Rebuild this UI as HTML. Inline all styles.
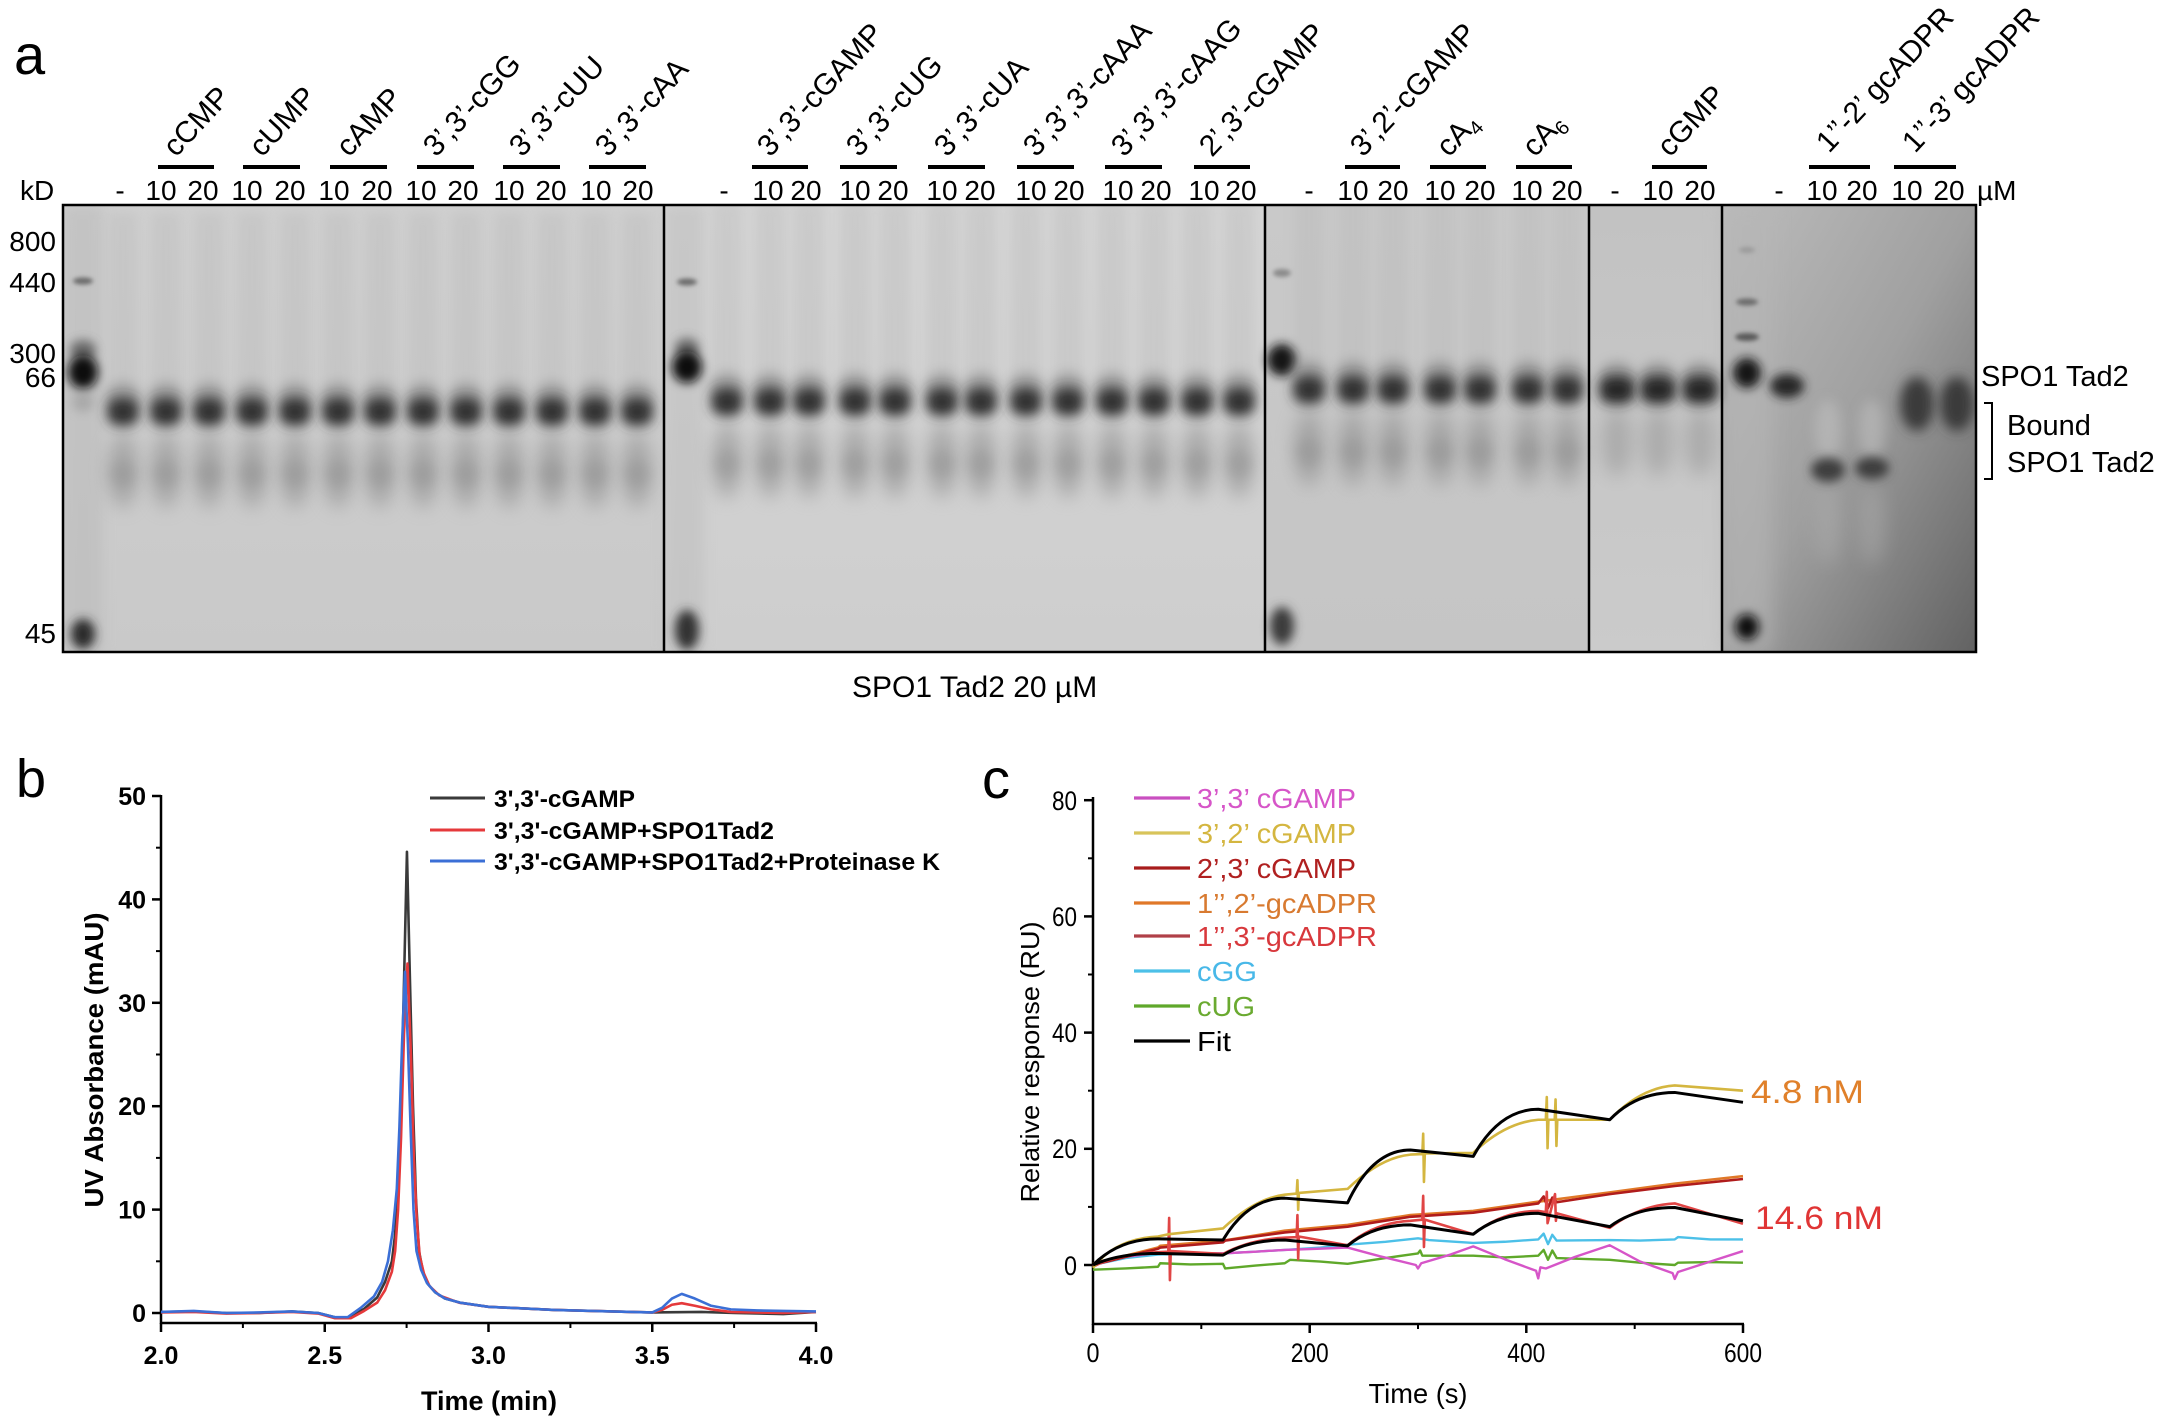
<!DOCTYPE html>
<html><head><meta charset="utf-8">
<style>
html,body{margin:0;padding:0;background:#fff;}
svg{display:block;}
text{font-family:"Liberation Sans",Arial,sans-serif;}
</style></head>
<body>
<svg width="2168" height="1419" viewBox="0 0 2168 1419" xmlns="http://www.w3.org/2000/svg" xmlns:xlink="http://www.w3.org/1999/xlink">
<defs>
  <filter id="b2" x="-100%" y="-100%" width="300%" height="300%"><feGaussianBlur stdDeviation="2"/></filter>
  <filter id="b4" x="-100%" y="-100%" width="300%" height="300%"><feGaussianBlur stdDeviation="4"/></filter>
  <filter id="b5" x="-100%" y="-100%" width="300%" height="300%"><feGaussianBlur stdDeviation="5"/></filter>
  <filter id="b6" x="-100%" y="-100%" width="300%" height="300%"><feGaussianBlur stdDeviation="6"/></filter>
  <filter id="b9" x="-100%" y="-100%" width="300%" height="300%"><feGaussianBlur stdDeviation="9"/></filter>
  <clipPath id="gc"><rect x="63" y="205" width="1913" height="447"/></clipPath>
  <linearGradient id="g1" x1="0" y1="0" x2="0" y2="1"><stop offset="0" stop-color="#d0d0d0"/><stop offset="1" stop-color="#c9c9c9"/></linearGradient>
  <linearGradient id="g2" x1="0" y1="0" x2="0" y2="1"><stop offset="0" stop-color="#d5d5d5"/><stop offset="1" stop-color="#cecece"/></linearGradient>
  <linearGradient id="g3" x1="0" y1="0" x2="0" y2="1"><stop offset="0" stop-color="#c9c9c9"/><stop offset="1" stop-color="#c5c5c5"/></linearGradient>
  <linearGradient id="g4" x1="0" y1="0" x2="0" y2="1"><stop offset="0" stop-color="#c2c2c2"/><stop offset="1" stop-color="#cbcbcb"/></linearGradient>
  <linearGradient id="g5" x1="0" y1="0" x2="1" y2="1"><stop offset="0" stop-color="#bcbcbc"/><stop offset="0.5" stop-color="#a0a0a0"/><stop offset="1" stop-color="#626262"/></linearGradient>
  <g id="ln">
    <rect x="-15" y="-200" width="30" height="190" fill="#b4b4b4" opacity="0.3" filter="url(#b6)"/>
    <ellipse cx="0" cy="58" rx="15" ry="38" fill="#8a8a8a" opacity="0.55" filter="url(#b9)"/>
    <ellipse cx="0" cy="62" rx="13" ry="14" fill="#888" opacity="0.35" filter="url(#b6)"/>
    <ellipse cx="0" cy="-14" rx="17" ry="15" fill="#6a6a6a" opacity="0.45" filter="url(#b6)"/>
    <rect x="-16" y="-14" width="32" height="28" rx="12" fill="#333" filter="url(#b6)"/>
  </g>
  <g id="ln4">
    <ellipse cx="0" cy="52" rx="15" ry="34" fill="#8a8a8a" opacity="0.45" filter="url(#b9)"/>
    <ellipse cx="0" cy="-14" rx="17" ry="14" fill="#666" opacity="0.45" filter="url(#b6)"/>
    <rect x="-18" y="-14" width="36" height="28" rx="12" fill="#262626" filter="url(#b6)"/>
  </g>
</defs>

<!-- ================= PANEL A ================= -->
<text x="14" y="74" font-size="56">a</text>

<g clip-path="url(#gc)">
  <rect x="63" y="205" width="601" height="447" fill="url(#g1)"/>
  <rect x="63" y="205" width="40" height="447" fill="#bcbcbc" opacity="0.6" filter="url(#b6)"/>
  <rect x="664" y="205" width="601" height="447" fill="url(#g2)"/>
  <rect x="664" y="205" width="40" height="447" fill="#c0c0c0" opacity="0.6" filter="url(#b6)"/>
  <rect x="1265" y="205" width="324" height="447" fill="url(#g3)"/>
  <rect x="1589" y="205" width="133" height="447" fill="url(#g4)"/>
  <rect x="1722" y="205" width="254" height="447" fill="url(#g5)"/>
  <rect x="1722" y="205" width="50" height="447" fill="#b6b6b6" opacity="0.6" filter="url(#b9)"/>

  <ellipse cx="83" cy="281" rx="10" ry="3.5" fill="#6a6a6a" filter="url(#b2)"/>
  <ellipse cx="83" cy="350" rx="13" ry="10" fill="#555" opacity="0.8" filter="url(#b5)"/>
  <ellipse cx="83" cy="372" rx="15" ry="17" fill="#111" filter="url(#b5)"/>
  <ellipse cx="83" cy="402" rx="11" ry="10" fill="#999" opacity="0.6" filter="url(#b5)"/>
  <ellipse cx="83" cy="634" rx="12" ry="15" fill="#2c2c2c" filter="url(#b5)"/>
  <use xlink:href="#ln" x="123" y="412"/>
  <use xlink:href="#ln" x="166" y="412"/>
  <use xlink:href="#ln" x="209" y="412"/>
  <use xlink:href="#ln" x="252" y="412"/>
  <use xlink:href="#ln" x="295" y="412"/>
  <use xlink:href="#ln" x="338" y="412"/>
  <use xlink:href="#ln" x="380" y="412"/>
  <use xlink:href="#ln" x="423" y="412"/>
  <use xlink:href="#ln" x="466" y="412"/>
  <use xlink:href="#ln" x="509" y="412"/>
  <use xlink:href="#ln" x="552" y="412"/>
  <use xlink:href="#ln" x="595" y="412"/>
  <use xlink:href="#ln" x="637" y="412"/>

  <ellipse cx="687" cy="282" rx="10" ry="3.5" fill="#6a6a6a" filter="url(#b2)"/>
  <ellipse cx="687" cy="348" rx="12" ry="10" fill="#555" opacity="0.8" filter="url(#b5)"/>
  <ellipse cx="687" cy="367" rx="15" ry="16" fill="#111" filter="url(#b5)"/>
  <ellipse cx="687" cy="630" rx="12" ry="20" fill="#333" filter="url(#b5)"/>
  <use xlink:href="#ln" x="727" y="402"/>
  <use xlink:href="#ln" x="770" y="402"/>
  <use xlink:href="#ln" x="809" y="402"/>
  <use xlink:href="#ln" x="855" y="402"/>
  <use xlink:href="#ln" x="895" y="402"/>
  <use xlink:href="#ln" x="942" y="402"/>
  <use xlink:href="#ln" x="981" y="402"/>
  <use xlink:href="#ln" x="1026" y="402"/>
  <use xlink:href="#ln" x="1068" y="402"/>
  <use xlink:href="#ln" x="1112" y="402"/>
  <use xlink:href="#ln" x="1154" y="402"/>
  <use xlink:href="#ln" x="1197" y="402"/>
  <use xlink:href="#ln" x="1239" y="402"/>

  <ellipse cx="1282" cy="273" rx="9" ry="4" fill="#8a8a8a" filter="url(#b2)"/>
  <ellipse cx="1282" cy="360" rx="15" ry="16" fill="#141414" filter="url(#b5)"/>
  <ellipse cx="1282" cy="626" rx="12" ry="19" fill="#3a3a3a" filter="url(#b5)"/>
  <use xlink:href="#ln" x="1309" y="390"/>
  <use xlink:href="#ln" x="1353" y="390"/>
  <use xlink:href="#ln" x="1393" y="390"/>
  <use xlink:href="#ln" x="1440" y="390"/>
  <use xlink:href="#ln" x="1480" y="390"/>
  <use xlink:href="#ln" x="1528" y="390"/>
  <use xlink:href="#ln" x="1567" y="390"/>

  <use xlink:href="#ln4" x="1617" y="390"/>
  <use xlink:href="#ln4" x="1658" y="390"/>
  <use xlink:href="#ln4" x="1700" y="390"/>

  <ellipse cx="1747" cy="250" rx="8" ry="3" fill="#9a9a9a" filter="url(#b2)"/>
  <ellipse cx="1747" cy="302" rx="11" ry="3.5" fill="#6a6a6a" filter="url(#b2)"/>
  <ellipse cx="1747" cy="337" rx="12" ry="4" fill="#5a5a5a" filter="url(#b2)"/>
  <ellipse cx="1747" cy="373" rx="14" ry="15" fill="#141414" filter="url(#b5)"/>
  <ellipse cx="1747" cy="627" rx="12" ry="13" fill="#111" filter="url(#b5)"/>
  <ellipse cx="1787" cy="386" rx="17" ry="12" fill="#262626" filter="url(#b5)"/>
  <ellipse cx="1828" cy="430" rx="13" ry="30" fill="#c4c4c4" opacity="0.5" filter="url(#b6)"/>
  <ellipse cx="1872" cy="430" rx="13" ry="30" fill="#c4c4c4" opacity="0.5" filter="url(#b6)"/>
  <ellipse cx="1828" cy="525" rx="13" ry="40" fill="#b4b4b4" opacity="0.4" filter="url(#b9)"/>
  <ellipse cx="1872" cy="525" rx="13" ry="40" fill="#b4b4b4" opacity="0.4" filter="url(#b9)"/>
  <ellipse cx="1828" cy="470" rx="17" ry="12" fill="#3c3c3c" filter="url(#b5)"/>
  <ellipse cx="1872" cy="468" rx="17" ry="11" fill="#3c3c3c" filter="url(#b5)"/>
  <ellipse cx="1917" cy="404" rx="17" ry="27" fill="#3a3a3a" filter="url(#b6)"/>
  <ellipse cx="1957" cy="404" rx="17" ry="27" fill="#3a3a3a" filter="url(#b6)"/>
</g>

<rect x="63" y="205" width="1913" height="447" fill="none" stroke="#000" stroke-width="2.5"/>
<line x1="664" y1="205" x2="664" y2="652" stroke="#000" stroke-width="2.5"/>
<line x1="1265" y1="205" x2="1265" y2="652" stroke="#000" stroke-width="2.5"/>
<line x1="1589" y1="205" x2="1589" y2="652" stroke="#000" stroke-width="2.5"/>
<line x1="1722" y1="205" x2="1722" y2="652" stroke="#000" stroke-width="2.5"/>

<g font-size="28" text-anchor="end" fill="#000">
  <text x="20" y="200" text-anchor="start">kD</text>
  <text x="56" y="251">800</text>
  <text x="56" y="292">440</text>
  <text x="56" y="363">300</text>
  <text x="56" y="387">66</text>
  <text x="56" y="643">45</text>
</g>

<g fill="#000">
  <rect x="158" y="165" width="56" height="4"/>
  <rect x="243" y="165" width="57" height="4"/>
  <rect x="330" y="165" width="57" height="4"/>
  <rect x="417" y="165" width="57" height="4"/>
  <rect x="503" y="165" width="57" height="4"/>
  <rect x="589" y="165" width="57" height="4"/>
  <rect x="752" y="165" width="56" height="4"/>
  <rect x="840" y="165" width="57" height="4"/>
  <rect x="928" y="165" width="57" height="4"/>
  <rect x="1017" y="165" width="57" height="4"/>
  <rect x="1105" y="165" width="57" height="4"/>
  <rect x="1194" y="165" width="56" height="4"/>
  <rect x="1345" y="165" width="55" height="4"/>
  <rect x="1430" y="165" width="56" height="4"/>
  <rect x="1516" y="165" width="56" height="4"/>
  <rect x="1652" y="165" width="55" height="4"/>
  <rect x="1809" y="165" width="61" height="4"/>
  <rect x="1894" y="165" width="62" height="4"/>
</g>

<g font-size="30" fill="#000">
  <text transform="translate(176,158) rotate(-47)">cCMP</text>
  <text transform="translate(262,158) rotate(-47)">cUMP</text>
  <text transform="translate(349,158) rotate(-47)">cAMP</text>
  <text transform="translate(436,158) rotate(-47)">3’,3’-cGG</text>
  <text transform="translate(522,158) rotate(-47)">3’,3’-cUU</text>
  <text transform="translate(608,158) rotate(-47)">3’,3’-cAA</text>
  <text transform="translate(770,158) rotate(-47)">3’,3’-cGAMP</text>
  <text transform="translate(859,158) rotate(-47)">3’,3’-cUG</text>
  <text transform="translate(947,158) rotate(-47)">3’,3’-cUA</text>
  <text transform="translate(1036,158) rotate(-47)">3’,3’,3’-cAAA</text>
  <text transform="translate(1124,158) rotate(-47)">3’,3’,3’-cAAG</text>
  <text transform="translate(1212,158) rotate(-47)">2’,3’-cGAMP</text>
  <text transform="translate(1363,158) rotate(-47)">3’,2’-cGAMP</text>
  <text transform="translate(1449,158) rotate(-47)">cA<tspan font-size="20" dy="6">4</tspan></text>
  <text transform="translate(1535,158) rotate(-47)">cA<tspan font-size="20" dy="6">6</tspan></text>
  <text transform="translate(1670,158) rotate(-47)">cGMP</text>
  <text transform="translate(1829,154) rotate(-47)">1’’-2’ gcADPR</text>
  <text transform="translate(1915,154) rotate(-47)">1’’-3’ gcADPR</text>
</g>

<g font-size="28" text-anchor="middle" fill="#000">
  <text x="120" y="200">-</text>
  <text x="161" y="200">10</text><text x="203" y="200">20</text>
  <text x="247" y="200">10</text><text x="290" y="200">20</text>
  <text x="334" y="200">10</text><text x="377" y="200">20</text>
  <text x="421" y="200">10</text><text x="463" y="200">20</text>
  <text x="509" y="200">10</text><text x="551" y="200">20</text>
  <text x="596" y="200">10</text><text x="638" y="200">20</text>
  <text x="724" y="200">-</text>
  <text x="768" y="200">10</text><text x="806" y="200">20</text>
  <text x="855" y="200">10</text><text x="893" y="200">20</text>
  <text x="942" y="200">10</text><text x="980" y="200">20</text>
  <text x="1031" y="200">10</text><text x="1069" y="200">20</text>
  <text x="1118" y="200">10</text><text x="1156" y="200">20</text>
  <text x="1204" y="200">10</text><text x="1241" y="200">20</text>
  <text x="1309" y="200">-</text>
  <text x="1353" y="200">10</text><text x="1393" y="200">20</text>
  <text x="1440" y="200">10</text><text x="1480" y="200">20</text>
  <text x="1527" y="200">10</text><text x="1567" y="200">20</text>
  <text x="1615" y="200">-</text>
  <text x="1658" y="200">10</text><text x="1700" y="200">20</text>
  <text x="1779" y="200">-</text>
  <text x="1822" y="200">10</text><text x="1862" y="200">20</text>
  <text x="1907" y="200">10</text><text x="1949" y="200">20</text>
  <text x="1977" y="200" text-anchor="start">µM</text>
</g>

<g font-size="29" fill="#000">
  <text x="1981" y="386">SPO1 Tad2</text>
  <text x="2007" y="435">Bound</text>
  <text x="2007" y="472">SPO1 Tad2</text>
</g>
<path d="M1984,403 H1992 V479 H1984" fill="none" stroke="#000" stroke-width="2"/>
<text x="852" y="697" font-size="30" fill="#000">SPO1 Tad2 20 µM</text>

<!-- ================= PANEL B ================= -->
<text x="16" y="797" font-size="54">b</text>
<g stroke="#000" stroke-width="2.5" fill="none">
  <line x1="161" y1="795" x2="161" y2="1324"/>
  <line x1="160" y1="1323" x2="817" y2="1323"/>
  <line x1="152" y1="1313" x2="161" y2="1313"/>
  <line x1="152" y1="1209.6" x2="161" y2="1209.6"/>
  <line x1="152" y1="1106.2" x2="161" y2="1106.2"/>
  <line x1="152" y1="1002.8" x2="161" y2="1002.8"/>
  <line x1="152" y1="899.4" x2="161" y2="899.4"/>
  <line x1="152" y1="796" x2="161" y2="796"/>
  <line x1="156" y1="1261.3" x2="161" y2="1261.3" stroke-width="2"/>
  <line x1="156" y1="1157.9" x2="161" y2="1157.9" stroke-width="2"/>
  <line x1="156" y1="1054.5" x2="161" y2="1054.5" stroke-width="2"/>
  <line x1="156" y1="951.1" x2="161" y2="951.1" stroke-width="2"/>
  <line x1="156" y1="847.7" x2="161" y2="847.7" stroke-width="2"/>
  <line x1="161" y1="1323" x2="161" y2="1332"/>
  <line x1="324.75" y1="1323" x2="324.75" y2="1332"/>
  <line x1="488.5" y1="1323" x2="488.5" y2="1332"/>
  <line x1="652.25" y1="1323" x2="652.25" y2="1332"/>
  <line x1="816" y1="1323" x2="816" y2="1332"/>
  <line x1="242.9" y1="1323" x2="242.9" y2="1328" stroke-width="2"/>
  <line x1="406.6" y1="1323" x2="406.6" y2="1328" stroke-width="2"/>
  <line x1="570.4" y1="1323" x2="570.4" y2="1328" stroke-width="2"/>
  <line x1="734.1" y1="1323" x2="734.1" y2="1328" stroke-width="2"/>
</g>
<g font-size="25" font-weight="bold" text-anchor="end" fill="#000">
  <text x="146" y="1322">0</text>
  <text x="146" y="1218.6">10</text>
  <text x="146" y="1115.2">20</text>
  <text x="146" y="1011.8">30</text>
  <text x="146" y="908.4">40</text>
  <text x="146" y="805">50</text>
</g>
<g font-size="25" font-weight="bold" text-anchor="middle" fill="#000">
  <text x="161" y="1364">2.0</text>
  <text x="324.75" y="1364">2.5</text>
  <text x="488.5" y="1364">3.0</text>
  <text x="652.25" y="1364">3.5</text>
  <text x="816" y="1364">4.0</text>
</g>
<text x="489" y="1410" font-size="27" font-weight="bold" text-anchor="middle">Time (min)</text>
<text transform="translate(103,1060) rotate(-90)" font-size="26" font-weight="bold" text-anchor="middle" textLength="295" lengthAdjust="spacingAndGlyphs">UV Absorbance (mAU)</text>

<g stroke-width="3">
  <line x1="430" y1="798" x2="485" y2="798" stroke="#3a3a3a"/>
  <line x1="430" y1="830" x2="485" y2="830" stroke="#e5393b"/>
  <line x1="430" y1="861" x2="485" y2="861" stroke="#3b6fd6"/>
</g>
<g font-size="24" font-weight="bold" fill="#000">
  <text x="494" y="807" textLength="141" lengthAdjust="spacingAndGlyphs">3',3'-cGAMP</text>
  <text x="494" y="839" textLength="280" lengthAdjust="spacingAndGlyphs">3',3'-cGAMP+SPO1Tad2</text>
  <text x="494" y="870" textLength="446" lengthAdjust="spacingAndGlyphs">3',3'-cGAMP+SPO1Tad2+Proteinase K</text>
</g>

<g transform="matrix(327.5 0 0 -10.34 -494 1313)" fill="none" stroke-linejoin="round">
  <path vector-effect="non-scaling-stroke" stroke="#3a3a3a" stroke-width="2.6" d="M2,0.1 L2.1,0.15 L2.2,0 L2.3,0 L2.4,0.15 L2.48,0 L2.53,-0.4 L2.57,-0.45 L2.62,0.4 L2.66,1.5 L2.684,3 L2.705,5 L2.7145,7.5 L2.7237,12 L2.733,20 L2.742,32 L2.751,44.6 L2.7603,32 L2.7695,20 L2.7786,11 L2.7878,6 L2.8,4 L2.815,2.8 L2.837,2 L2.867,1.4 L2.913,1 L3,0.6 L3.2,0.3 L3.5,0.05 L3.65,0.1 L3.75,0 L3.9,-0.1 L4,0.1"/>
  <path vector-effect="non-scaling-stroke" stroke="#e5393b" stroke-width="2.6" d="M2,0.05 L2.1,0.1 L2.2,-0.05 L2.3,0 L2.4,0.1 L2.48,-0.05 L2.53,-0.5 L2.58,-0.5 L2.62,0.2 L2.66,1 L2.684,2.2 L2.705,4 L2.715,6 L2.724,10 L2.733,17 L2.742,27 L2.7526,33.8 L2.763,25 L2.772,15 L2.781,9 L2.79,5.5 L2.803,3.8 L2.82,2.6 L2.85,1.7 L2.91,1 L3,0.6 L3.2,0.3 L3.5,0.05 L3.53,0.3 L3.56,0.8 L3.59,0.95 L3.63,0.7 L3.68,0.35 L3.74,0.1 L3.9,0 L4,0.1"/>
  <path vector-effect="non-scaling-stroke" stroke="#3b6fd6" stroke-width="2.6" d="M2,0.1 L2.1,0.2 L2.2,0 L2.3,0.05 L2.4,0.15 L2.48,0 L2.53,-0.4 L2.57,-0.4 L2.61,0.5 L2.65,1.6 L2.675,3 L2.693,5 L2.708,8 L2.72,12 L2.728,18 L2.736,26 L2.745,33 L2.754,26 L2.762,18 L2.771,10 L2.78,6 L2.794,4.2 L2.812,2.9 L2.837,2 L2.867,1.4 L2.913,1 L3,0.6 L3.2,0.3 L3.5,0.05 L3.53,0.5 L3.56,1.4 L3.59,1.85 L3.63,1.4 L3.68,0.7 L3.74,0.35 L3.82,0.25 L3.9,0.2 L4,0.15"/>
</g>

<!-- ================= PANEL C ================= -->
<text x="982" y="798" font-size="56">c</text>
<g stroke="#000" stroke-width="2.5" fill="none">
  <line x1="1093" y1="797" x2="1093" y2="1325"/>
  <line x1="1092" y1="1324" x2="1744" y2="1324"/>
  <line x1="1084" y1="800.2" x2="1093" y2="800.2"/>
  <line x1="1084" y1="916.4" x2="1093" y2="916.4"/>
  <line x1="1084" y1="1032.6" x2="1093" y2="1032.6"/>
  <line x1="1084" y1="1148.8" x2="1093" y2="1148.8"/>
  <line x1="1084" y1="1265" x2="1093" y2="1265"/>
  <line x1="1088" y1="858.3" x2="1093" y2="858.3" stroke-width="2"/>
  <line x1="1088" y1="974.5" x2="1093" y2="974.5" stroke-width="2"/>
  <line x1="1088" y1="1090.7" x2="1093" y2="1090.7" stroke-width="2"/>
  <line x1="1088" y1="1206.9" x2="1093" y2="1206.9" stroke-width="2"/>
  <line x1="1093" y1="1324" x2="1093" y2="1333"/>
  <line x1="1309.7" y1="1324" x2="1309.7" y2="1333"/>
  <line x1="1526.3" y1="1324" x2="1526.3" y2="1333"/>
  <line x1="1743" y1="1324" x2="1743" y2="1333"/>
  <line x1="1201.3" y1="1324" x2="1201.3" y2="1329" stroke-width="2"/>
  <line x1="1418" y1="1324" x2="1418" y2="1329" stroke-width="2"/>
  <line x1="1634.7" y1="1324" x2="1634.7" y2="1329" stroke-width="2"/>
</g>
<g font-size="27" text-anchor="end" fill="#000">
  <text x="1077" y="810" textLength="25" lengthAdjust="spacingAndGlyphs">80</text>
  <text x="1077" y="926" textLength="25" lengthAdjust="spacingAndGlyphs">60</text>
  <text x="1077" y="1042" textLength="25" lengthAdjust="spacingAndGlyphs">40</text>
  <text x="1077" y="1158" textLength="25" lengthAdjust="spacingAndGlyphs">20</text>
  <text x="1077" y="1275" textLength="13" lengthAdjust="spacingAndGlyphs">0</text>
</g>
<g font-size="27" text-anchor="middle" fill="#000">
  <text x="1093" y="1362" textLength="13" lengthAdjust="spacingAndGlyphs">0</text>
  <text x="1309.7" y="1362" textLength="38" lengthAdjust="spacingAndGlyphs">200</text>
  <text x="1526.3" y="1362" textLength="38" lengthAdjust="spacingAndGlyphs">400</text>
  <text x="1743" y="1362" textLength="38" lengthAdjust="spacingAndGlyphs">600</text>
</g>
<text x="1418" y="1403" font-size="28" text-anchor="middle" textLength="99" lengthAdjust="spacingAndGlyphs">Time (s)</text>
<text transform="translate(1039,1062) rotate(-90)" font-size="26" text-anchor="middle" textLength="281" lengthAdjust="spacingAndGlyphs">Relative response (RU)</text>

<g stroke-width="3.2">
  <line x1="1134" y1="798" x2="1190" y2="798" stroke="#c94fc0"/>
  <line x1="1134" y1="833" x2="1190" y2="833" stroke="#d8c45a"/>
  <line x1="1134" y1="868" x2="1190" y2="868" stroke="#a81c1c"/>
  <line x1="1134" y1="903" x2="1190" y2="903" stroke="#e07828"/>
  <line x1="1134" y1="936" x2="1190" y2="936" stroke="#b04048"/>
  <line x1="1134" y1="971" x2="1190" y2="971" stroke="#4cc0e8"/>
  <line x1="1134" y1="1006" x2="1190" y2="1006" stroke="#5fa82a"/>
  <line x1="1134" y1="1041" x2="1190" y2="1041" stroke="#000"/>
</g>
<g font-size="28">
  <text x="1197" y="808" fill="#d655c8" textLength="159" lengthAdjust="spacingAndGlyphs">3’,3’ cGAMP</text>
  <text x="1197" y="843" fill="#d4b640" textLength="159" lengthAdjust="spacingAndGlyphs">3’,2’ cGAMP</text>
  <text x="1197" y="878" fill="#b02020" textLength="159" lengthAdjust="spacingAndGlyphs">2’,3’ cGAMP</text>
  <text x="1197" y="913" fill="#d87a30" textLength="180" lengthAdjust="spacingAndGlyphs">1’’,2’-gcADPR</text>
  <text x="1197" y="946" fill="#d8383c" textLength="180" lengthAdjust="spacingAndGlyphs">1’’,3’-gcADPR</text>
  <text x="1197" y="981" fill="#48b8e8" textLength="60" lengthAdjust="spacingAndGlyphs">cGG</text>
  <text x="1197" y="1016" fill="#6aaa30" textLength="58" lengthAdjust="spacingAndGlyphs">cUG</text>
  <text x="1197" y="1051" fill="#000" textLength="34" lengthAdjust="spacingAndGlyphs">Fit</text>
</g>
<text x="1751" y="1103" font-size="32" fill="#e0802a" textLength="113" lengthAdjust="spacingAndGlyphs">4.8 nM</text>
<text x="1755" y="1229" font-size="32" fill="#e03535" textLength="128" lengthAdjust="spacingAndGlyphs">14.6 nM</text>

<g transform="matrix(1.0833 0 0 -5.81 1093 1265)" fill="none" stroke-linejoin="round">
  <path vector-effect="non-scaling-stroke" stroke="#5fa82a" stroke-width="2.4" d="M0,-0.8 L30,-0.6 L60,-0.3 L62,0.3 L90,0.1 L120,0.2 L122,-0.6 L150,-0.1 L177,0.3 L182,0.9 L210,0.6 L235,0.2 L270,1.2 L300,2 L302,2.5 L304,1.6 L351,1.6 L380,1.3 L411,1.6 L416,2.6 L420,0.9 L424,2.5 L428,1.2 L477,0.9 L505,0.4 L537,0 L540,0.4 L570,0.5 L600,0.4"/>
  <path vector-effect="non-scaling-stroke" stroke="#4cc0e8" stroke-width="2.4" d="M0,0 L30,1.2 L60,1.8 L90,1.9 L120,2 L150,2.3 L177,2.6 L210,3 L235,3.5 L270,4 L300,4.6 L310,4.3 L351,3.8 L380,4 L411,4.4 L416,5.4 L420,3.6 L424,5.2 L428,4.2 L477,4.3 L505,4.2 L537,4.4 L540,4.8 L570,4.4 L600,4.4"/>
  <path vector-effect="non-scaling-stroke" stroke="#d655c8" stroke-width="2.4" d="M0,0 L30,1.4 L60,2.1 L90,2 L120,2 L150,2.3 L177,2.6 L210,2.8 L235,3 L265,1.5 L298,0 L300,-0.6 L303,0.3 L330,1.8 L351,3.2 L380,1 L409,-1 L411,-2.3 L413,-0.4 L418,-0.6 L445,1.4 L477,3.4 L505,0.6 L535,-1.4 L537,-2.4 L540,-1.2 L570,0.6 L600,2.4"/>
  <path vector-effect="non-scaling-stroke" stroke="#e07828" stroke-width="2.6" d="M0,0.2 L60,3 L62,3.3 L120,4.2 L177,5.9 L235,6.9 L293,8.6 L351,9.3 L411,10.9 L477,12.5 L537,14 L600,15.3"/>
  <path vector-effect="non-scaling-stroke" stroke="#b01c1c" stroke-width="2.6" d="M0,0 L60,2.8 L62,3 L120,3.9 L122,4.2 L177,5.6 L235,6.6 L293,8.3 L351,9 L411,10.6 L416,11.8 L420,9.8 L424,11.6 L428,10.8 L477,12.2 L537,13.6 L600,14.8"/>
  <path vector-effect="non-scaling-stroke" stroke="#e04545" stroke-width="2.6" d="M0,-0.3 Q20,1.8 60,2.2 L69.5,2.3 L70.3,8.1 L71,-2.6 L71.8,2.4 L120,1.9 Q145,4.4 177,4.7 L188,4.8 L188.7,8.6 L189.4,1 L190,4.9 L235,3.4 Q260,7.3 293,7.6 L304,7.8 L304.8,11.9 L305.5,3.1 L306.3,7.8 L351,5.3 Q378,9.3 411,9.3 L418,9.1 L418.9,12.6 L419.6,7.2 L426.5,12.2 L427.3,7.6 L428,8.9 L477,6.4 Q505,10.3 537,10.6 L600,7.1"/>
  <path vector-effect="non-scaling-stroke" stroke="#d4b640" stroke-width="2.6" d="M0,-0.5 Q20,4.5 60,4.9 L70,5.3 L120,6.3 Q150,11.5 177,12.1 L188,12.3 L188.7,14.6 L189.4,9.5 L190,12.4 L235,13.1 Q265,18.5 293,19 L304,19.1 L304.8,22.6 L305.5,14.3 L306.3,19.2 L351,19.3 Q380,24.5 411,25 L418,25 L418.9,28.9 L419.6,20.1 L420.4,25 L426.2,25 L427,28.5 L427.8,20.5 L428.6,25 L477,25 Q505,30.5 537,30.9 L600,30"/>
  <path vector-effect="non-scaling-stroke" stroke="#000" stroke-width="3" d="M0,0 Q24,4.5 60,4.5 L120,4.3 Q143,11.5 177,11.5 L235,10.7 Q258,19.8 293,19.8 L351,18.7 Q375,26.8 411,26.8 L477,25 Q501,29.7 537,29.7 L600,28"/>
  <path vector-effect="non-scaling-stroke" stroke="#000" stroke-width="3" d="M0,0 Q24,2 60,2 L120,1.7 Q143,4.3 177,4.3 L235,3.3 Q258,6.9 293,6.9 L351,5.3 Q375,8.9 411,8.9 L477,6.6 Q501,9.9 537,9.9 L600,7.6"/>
</g>
</svg>
</body></html>
